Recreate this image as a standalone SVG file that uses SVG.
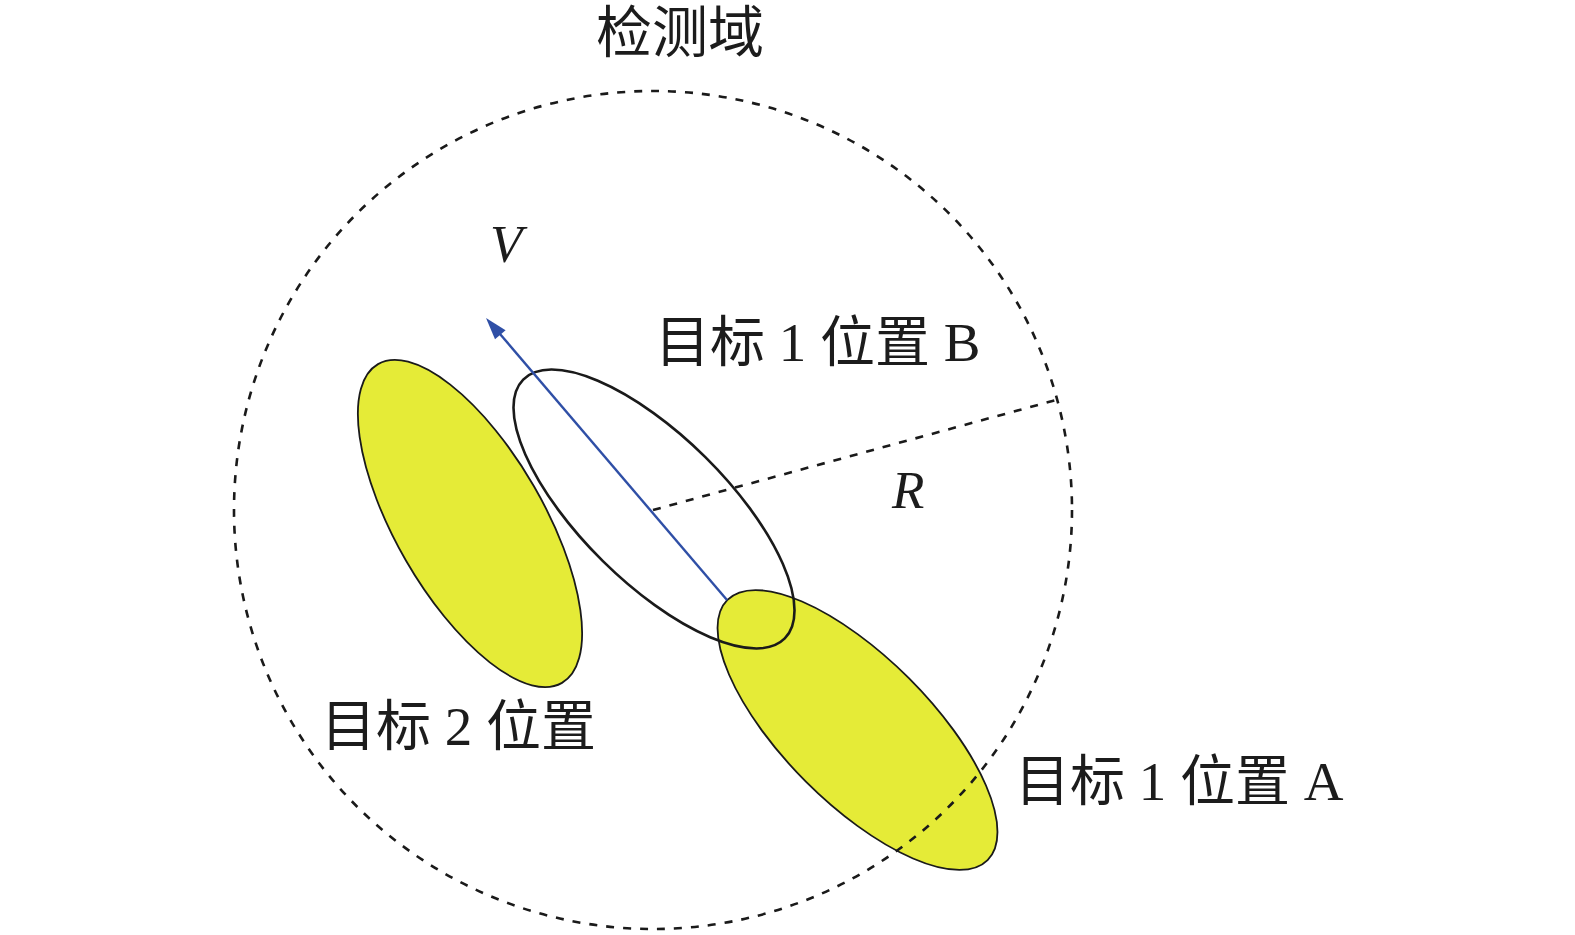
<svg xmlns="http://www.w3.org/2000/svg" width="1575" height="935" viewBox="0 0 1575 935">
<defs>
<style>
.lbl { font-family: "Liberation Serif", "Noto Sans CJK SC", serif; font-size: 55px; fill: #1c1c1c; }
.var { font-family: "Liberation Serif", serif; font-style: italic; font-size: 53px; fill: #1c1c1c; }
.target { fill: #E5EB37; stroke: #1a1a1a; stroke-width: 1.8; }
.outline { fill: none; stroke: #1a1a1a; stroke-width: 2.6; }
.dash { fill: none; stroke: #1a1a1a; stroke-width: 2.6; stroke-dasharray: 8 9; }
.vel { stroke: #2F4FA6; stroke-width: 2.4; fill: none; }
</style>
</defs>
<rect width="1575" height="935" fill="#ffffff"/>

<g id="target2">
<ellipse class="target" cx="470" cy="523.5" rx="184" ry="74" transform="rotate(60 470 523.5)"/>
</g>
<g id="target1A">
<ellipse class="target" cx="857.5" cy="730" rx="184" ry="73" transform="rotate(45 857.5 730)"/>
</g>
<g id="target1B">
<ellipse class="outline" cx="654" cy="509" rx="184" ry="73" transform="rotate(44.7 654 509)"/>
</g>

<g id="detection-domain">
<circle class="dash" cx="653" cy="510" r="419"/>
</g>

<g id="connectors">
<line id="radius" class="dash" x1="653" y1="510" x2="1056" y2="400"/>
<line id="velocity" class="vel" x1="727" y1="600" x2="500" y2="334"/>
<polygon fill="#2F4FA6" points="486,318 505.6,330.2 495,339.2"/>
</g>

<g id="labels">
<text class="lbl" x="596" y="52" style="font-size:56px">检测域</text>
<text class="var" x="490" y="262">V</text>
<text class="var" x="892" y="508">R</text>
<text class="lbl" x="655" y="361">目标 1 位置 B</text>
<text class="lbl" x="321" y="745">目标 2 位置</text>
<text class="lbl" x="1015" y="800">目标 1 位置 A</text>
</g>
</svg>
